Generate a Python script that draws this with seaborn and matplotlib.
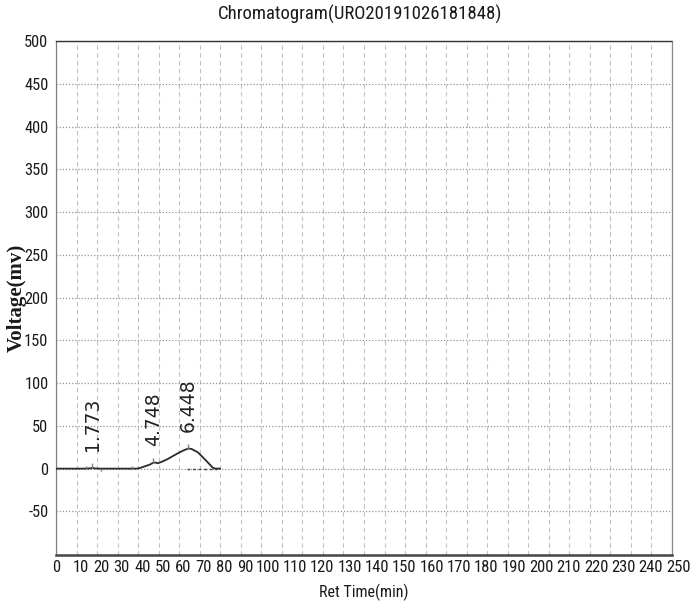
import matplotlib
matplotlib.use("Agg")
import matplotlib.pyplot as plt
from matplotlib import font_manager
from matplotlib.font_manager import FontProperties
from matplotlib.ticker import MultipleLocator
import pandas as pd
import seaborn as sns

# Detector trace: retention time (min) vs. signal (mV)
retention_time = [0.0, 1.40, 1.70, 1.773, 1.85, 2.10, 3.95, 4.10, 4.30, 4.56, 4.748,
                  4.85, 4.97, 5.20, 5.45, 5.70, 5.94, 6.20, 6.448, 6.60, 6.91, 7.10,
                  7.31, 7.50, 7.64, 7.75, 8.00]
voltage = [0.0, 0.0, 0.3, 1.2, 0.3, 0.0, 0.0, 0.8, 2.5, 4.6, 7.0,
           7.0, 6.3, 8.5, 11.3, 14.8, 18.0, 21.2, 23.5, 23.0, 19.0, 14.5,
           9.4, 4.5, 1.0, 0.0, 0.0]

# Integrated peaks
peak_times = [1.773, 4.748, 6.448]
peak_heights = [1.2, 7.0, 23.5]
peak_labels = ["1.773", "4.748", "6.448"]

# Peak start / end markers on the baseline
boundary_times = [1.46, 2.19, 3.69]
boundary_levels = [2.5, -2.5, 3.0]

# Baseline drawn under the main peak
baseline_start, baseline_end = 6.38, 7.84

x_tick_labels = ["0", "10", "20", "30", "40", "50", "60", "70", "80", "90", "100",
                 "110", "120", "130", "140", "150", "160", "170", "180", "190",
                 "200", "210", "220", "230", "240", "250"]
y_tick_values = [-50, 0, 50, 100, 150, 200, 250, 300, 350, 400, 450, 500]

title_text = "Chromatogram(URO20191026181848)"
x_title = "Ret Time(min)"
y_title = "Voltage(mv)"

sns.set_style("white")
plt.rcParams["font.family"] = ["Liberation Sans", "DejaVu Sans"]


def pick_condensed():
    """Return a path to a narrow/condensed regular sans font if one is installed."""
    prefs = ["liberation sans narrow", "arial narrow", "roboto condensed",
             "open sans condensed", "dejavu sans condensed", "noto sans condensed"]
    cands = []
    for f in font_manager.fontManager.ttflist:
        name = f.name.lower()
        fname = f.fname.lower()
        narrowish = ("narrow" in name or "condensed" in name or "narrow" in fname
                     or "condensed" in fname or f.stretch in ("condensed", "semi-condensed"))
        if not narrowish or f.style != "normal":
            continue
        if "bold" in fname or "light" in fname or "mono" in fname or "serif" in name:
            continue
        if "black" in fname or "thin" in fname or "medium" in fname or "extra" in fname:
            continue
        key = name + " " + ("condensed" if "condensed" in fname else "")
        rank = len(prefs)
        for i, p in enumerate(prefs):
            if all(w in (key + " " + fname) for w in p.split()):
                rank = i
                break
        cands.append((rank, f.fname))
    cands.sort()
    return cands[0][1] if cands else None


cond_path = pick_condensed()
if cond_path:
    def sans(size):
        return FontProperties(fname=cond_path, size=size)
    fs = 1.0
else:
    def sans(size):
        return FontProperties(family="Liberation Sans", size=size)
    fs = 0.88

df = pd.DataFrame({"time": retention_time, "voltage": voltage})

fig = plt.figure(figsize=(6.9, 6.05), dpi=100)
ax = fig.add_axes([56 / 690, 50 / 605, 616 / 690, 514 / 605])

sns.lineplot(data=df, x="time", y="voltage", ax=ax, color="#2b2b2b",
             linewidth=1.3, zorder=5)

ax.set_xlim(0, 30)
ax.set_ylim(-101, 500)

# grid: dashed every minute, dotted every 50 mV
ax.xaxis.set_minor_locator(MultipleLocator(1))
ax.set_xticks([])
ax.grid(which="minor", axis="x", linestyle=(0, (4, 3)), color="#c2c2c2", linewidth=0.8)
ax.set_yticks(y_tick_values)
ax.set_yticklabels([str(v) for v in y_tick_values])
ax.grid(which="major", axis="y", linestyle=(0, (1, 1.5)), color="#959595", linewidth=0.9)
ax.tick_params(axis="x", which="both", length=0)
ax.tick_params(axis="y", which="major", length=3.5, width=0.8, color="#777777",
               direction="out", pad=2, labelcolor="#1a1a1a")
for lab in ax.get_yticklabels():
    lab.set_fontproperties(sans(11.8 * fs))

# baseline under the main peak
ax.plot([baseline_start, baseline_end], [0, 0], linestyle=(0, (2, 2)),
        color="#444444", linewidth=1.0, zorder=4)

# peak markers and retention-time labels
for t, h, lab in zip(peak_times, peak_heights, peak_labels):
    ax.vlines(t, h, h + 5, color="#7a8596", linewidth=1.0, zorder=6)
    ax.annotate(lab, xy=(t, h + 5), xytext=(0, 9), textcoords="offset points",
                rotation=90, ha="center", va="bottom", fontsize=13.5,
                family=["DejaVu Sans"], color="#222222")
for t, lv in zip(boundary_times, boundary_levels):
    ax.vlines(t, 0, lv, color="#777777", linewidth=1.0, zorder=6)

# x-axis labels laid out along the bottom edge
label_pos = [0.0] + [k + 0.2 for k in range(1, 10)] + [10.3] + \
            [10.3 + 1.333 * j for j in range(1, len(x_tick_labels) - 10)]
for pos, lab in zip(label_pos, x_tick_labels):
    ax.annotate(lab, xy=(pos, 0), xycoords=("data", "axes fraction"),
                xytext=(0, -3.5), textcoords="offset points", ha="center", va="top",
                fontproperties=sans(12 * fs), color="#1a1a1a",
                annotation_clip=False)

# frame
ax.spines["left"].set_color("#808080")
ax.spines["left"].set_linewidth(0.9)
ax.spines["bottom"].set_color("#444444")
ax.spines["bottom"].set_linewidth(1.8)
ax.spines["right"].set_color("#8a8a8a")
ax.spines["right"].set_linewidth(0.9)
ax.spines["top"].set_linestyle((0, (1, 1)))
ax.spines["top"].set_color("#333333")
ax.spines["top"].set_linewidth(1.0)

ax.set_xlabel("")
ax.set_ylabel(y_title, family=["Liberation Serif"], fontweight="bold",
              fontsize=15, color="#1a1a1a")
ax.yaxis.set_label_coords(-0.048, 0.5)
fig.text(ax.get_position().x0 + ax.get_position().width / 2, 4 / 605, x_title,
         ha="center", va="bottom", fontproperties=sans(11.5 * fs), color="#1a1a1a")
fig.text(360 / 690, 1 - 14 / 605, title_text, ha="center", va="center",
         fontproperties=sans(13.5 * fs), color="#1a1a1a")

fig.savefig("out.png", dpi=100, facecolor="white")
